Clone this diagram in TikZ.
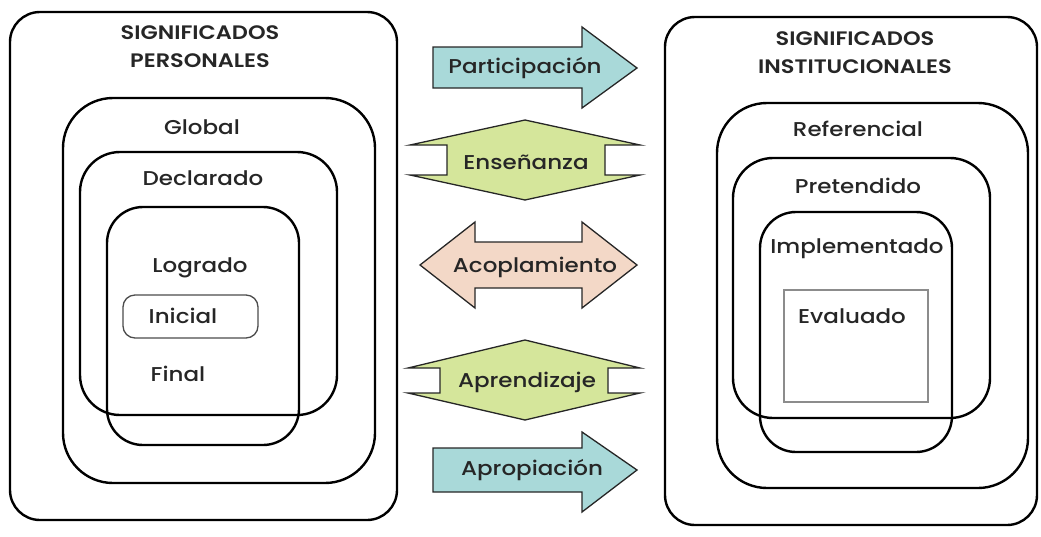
\documentclass[tikz,border=0pt]{standalone}
\usepackage{fontspec}
\setmainfont{Poppins}[UprightFont={* Medium},BoldFont={* SemiBold},FakeStretch=1.15]
\begin{document}
\begin{tikzpicture}[x=1pt,y=-1pt,
  box/.style={draw=black,line width=2.4pt},
  thinbox/.style={draw=black!70,line width=1.3pt},
  grayrect/.style={draw=black!45,line width=2pt},
  arrowshape/.style={draw=black!85,line width=1.3pt,line join=miter},
  lbl/.style={inner sep=0pt,font=\fontsize{20}{24}\selectfont,text=black!85},
  head/.style={inner sep=0pt,font=\fontsize{19.5}{28}\bfseries\selectfont,text=black!85,align=center}]
\definecolor{teal}{HTML}{A9D9D9}
\definecolor{lime}{HTML}{D5E69B}
\definecolor{peach}{HTML}{F3D8C7}
\useasboundingbox (0,0) rectangle (1041,536);
% left side
\draw[box,rounded corners=30pt] (10,12) rectangle (397,520);
\draw[box,rounded corners=50pt] (63,98) rectangle (375,483);
\draw[box,rounded corners=40pt] (80,152) rectangle (337,415);
\draw[box,rounded corners=36pt] (107,207) rectangle (299,445);
\draw[thinbox,rounded corners=12pt] (123,295) rectangle (258,338);
\node[head] (sp) at (200,47) {SIGNIFICADOS\\PERSONALES};
\node[lbl] (glob) at (202,127) {Global};
\node[lbl] (decl) at (203,178) {Declarado};
\node[lbl] (logr) at (200,268) {Logrado};
\node[lbl] (inic) at (183,316) {Inicial};
\node[lbl] (fin) at (178,374) {Final};
% right side
\draw[box,rounded corners=30pt] (665,17) rectangle (1037,525);
\draw[box,rounded corners=50pt] (717,103) rectangle (1028,488);
\draw[box,rounded corners=40pt] (733,158) rectangle (990,418);
\draw[box,rounded corners=36pt] (760,212) rectangle (952,452);
\draw[grayrect] (784,290) rectangle (928,402);
\node[head] (si) at (855,53) {SIGNIFICADOS\\INSTITUCIONALES};
\node[lbl] (ref) at (858,129) {Referencial};
\node[lbl] (pre) at (858,186) {Pretendido};
\node[lbl] (imp) at (857,249) {Implementado};
\node[lbl] (eva) at (852,316) {Evaluado};
% middle arrows
\draw[arrowshape,fill=teal] (433,47) -- (582,47) -- (582,27) -- (637,68) -- (582,108) -- (582,88) -- (433,88) -- cycle;
\node[lbl] (part) at (525,68) {Participación};
\draw[arrowshape,fill=lime] (525,120) -- (640,145) -- (605,145) -- (605,175) -- (640,175) -- (525,200) -- (410,175) -- (447,175) -- (447,145) -- (410,145) -- cycle;
\node[lbl] (ens) at (526,162) {Enseñanza};
\draw[arrowshape,fill=peach] (420,265) -- (475,222) -- (475,242) -- (582,242) -- (582,222) -- (637,265) -- (582,308) -- (582,288) -- (475,288) -- (475,308) -- cycle;
\node[lbl] (acop) at (535,267) {Acoplamiento};
\draw[arrowshape,fill=lime] (525,340) -- (640,368) -- (608,368) -- (608,393) -- (640,393) -- (525,420) -- (408,393) -- (440,393) -- (440,368) -- (408,368) -- cycle;
\node[lbl] (apr) at (527,382) {Aprendizaje};
\draw[arrowshape,fill=teal] (433,448) -- (582,448) -- (582,432) -- (637,470) -- (582,512) -- (582,492) -- (433,492) -- cycle;
\node[lbl] (apro) at (532,470) {Apropiación};
\end{tikzpicture}
\end{document}
